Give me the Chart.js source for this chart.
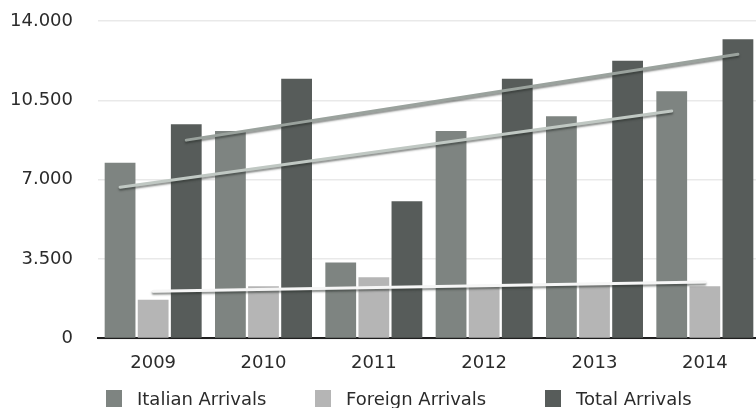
<!DOCTYPE html>
<html>
<head>
<meta charset="utf-8">
<script src="https://cdn.jsdelivr.net/npm/chart.js@4/dist/chart.umd.min.js"></script>
<style>
  html, body { margin: 0; padding: 0; background: #fff; overflow: hidden; width: 756px; height: 408px; }
  #wrap { position: relative; width: 760px; height: 408px; }
  #c { display: block; }
  .lg-item { position: absolute; top: 389px; height: 18px; display: flex; align-items: center;
             font-family: "DejaVu Sans", sans-serif; font-size: 18px; color: #2b2b2b; white-space: nowrap; }
  .lg-box { width: 16px; height: 17px; margin-right: 15px; }
</style>
</head>
<body>
<div id="wrap">
  <canvas id="c" width="760" height="408"></canvas>
  <div id="legend"></div>
</div>
<script>
// Arrivals per year
const years = ['2009', '2010', '2011', '2012', '2013', '2014'];
const italianArrivals = [7750, 9150, 3350, 9150, 9800, 10900];
const foreignArrivals = [1700, 2300, 2700, 2300, 2400, 2300];
const totalArrivals = [9450, 11450, 6050, 11450, 12250, 13200];
const seriesNames = ['Italian Arrivals', 'Foreign Arrivals', 'Total Arrivals'];

// Value axis ticks
const yTickValues = [0, 3500, 7000, 10500, 14000];
const yTickLabels = ['0', '3.500', '7.000', '10.500', '14.000'];

const barColors = ['#7e8481', '#b5b5b5', '#575c5a'];
const trendColors = ['#c0c8c3', '#f6f6f6', '#9aa29d'];
const legendLeft = [106, 315, 545];

// least-squares line through one series (x = category index)
function fitLine(vals) {
  const n = vals.length;
  const mx = (n - 1) / 2;
  const my = vals.reduce((a, b) => a + b, 0) / n;
  let sxy = 0, sxx = 0;
  vals.forEach((v, i) => { sxy += (i - mx) * (v - my); sxx += (i - mx) * (i - mx); });
  const slope = sxy / sxx;
  return { slope, intercept: my - slope * mx };
}

// trend line per series, from its first bar to its last bar
const trendPlugin = {
  id: 'trendLines',
  afterDatasetsDraw(chart) {
    const ctx = chart.ctx;
    const yScale = chart.scales.y;
    chart.data.datasets.forEach((ds, i) => {
      const meta = chart.getDatasetMeta(i);
      const fit = fitLine(ds.data);
      const last = ds.data.length - 1;
      const a = meta.data[0], b = meta.data[last];
      ctx.save();
      ctx.strokeStyle = trendColors[i];
      ctx.lineWidth = 3;
      ctx.lineCap = 'round';
      ctx.shadowColor = 'rgba(40,45,42,0.55)';
      ctx.shadowOffsetY = 2;
      ctx.shadowBlur = 2;
      ctx.beginPath();
      ctx.moveTo(a.x, yScale.getPixelForValue(fit.intercept));
      ctx.lineTo(b.x, yScale.getPixelForValue(fit.intercept + fit.slope * last));
      ctx.stroke();
      ctx.restore();
    });
  }
};

const chart = new Chart(document.getElementById('c'), {
  type: 'bar',
  data: {
    labels: years,
    datasets: [
      { label: seriesNames[0], data: italianArrivals, backgroundColor: barColors[0] },
      { label: seriesNames[1], data: foreignArrivals, backgroundColor: barColors[1] },
      { label: seriesNames[2], data: totalArrivals, backgroundColor: barColors[2] }
    ]
  },
  options: {
    responsive: false,
    animation: false,
    devicePixelRatio: 1,
    datasets: { bar: { categoryPercentage: 0.9, barPercentage: 0.93 } },
    layout: { padding: { left: 10, right: 0, top: 21, bottom: 20 } },
    plugins: { legend: { display: false }, tooltip: { enabled: false } },
    scales: {
      x: {
        grid: { display: false, drawTicks: false },
        border: { display: true, color: '#1e1e1e', width: 2 },
        ticks: { color: '#2b2b2b', padding: 14, font: { family: 'DejaVu Sans', size: 18 } }
      },
      y: {
        min: 0,
        max: 14000,
        afterBuildTicks(axis) { axis.ticks = yTickValues.map(v => ({ value: v })); },
        afterFit(axis) { axis.width = 88; axis.paddingTop = 0; axis.paddingBottom = 0; },
        grid: { color: '#e9e9e9', lineWidth: 1.5, drawTicks: false },
        border: { display: false },
        ticks: {
          color: '#2b2b2b',
          padding: 25,
          font: { family: 'DejaVu Sans', size: 18 },
          callback: (v) => yTickLabels[yTickValues.indexOf(v)]
        }
      }
    }
  },
  plugins: [trendPlugin]
});

// legend built from the datasets
const legend = document.getElementById('legend');
chart.data.datasets.forEach((ds, i) => {
  const item = document.createElement('div');
  item.className = 'lg-item';
  item.style.left = legendLeft[i] + 'px';
  const box = document.createElement('span');
  box.className = 'lg-box';
  box.style.background = ds.backgroundColor;
  const txt = document.createElement('span');
  txt.textContent = ds.label;
  item.appendChild(box);
  item.appendChild(txt);
  legend.appendChild(item);
});
</script>
</body>
</html>
